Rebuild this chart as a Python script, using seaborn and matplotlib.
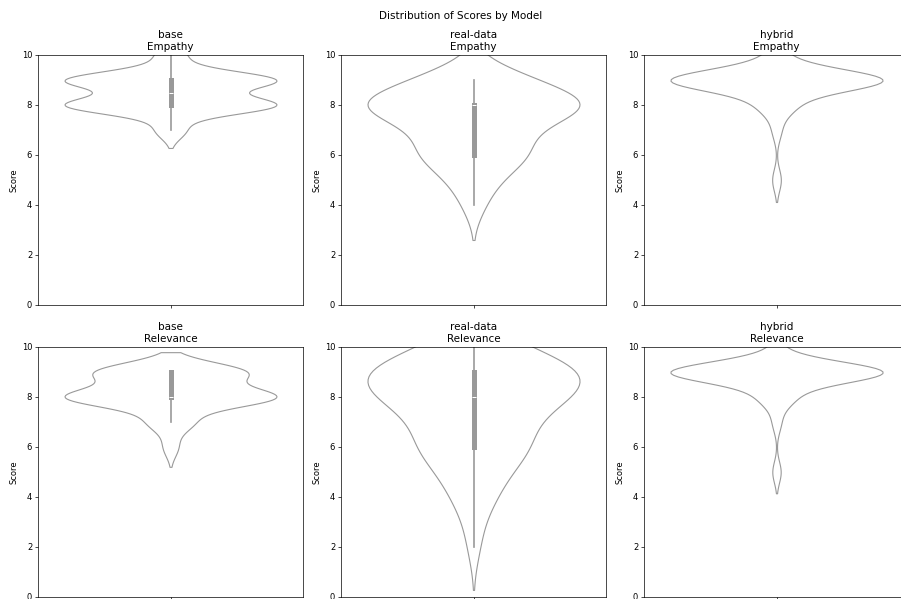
import numpy as np
import pandas as pd
import matplotlib
matplotlib.use("Agg")
import matplotlib.pyplot as plt
import seaborn as sns

models = ["base", "real-data", "hybrid"]
metrics = ["Empathy", "Relevance"]
score_levels = [2, 3, 4, 5, 6, 7, 8, 9, 10]

# counts of each score level (2..10)
base_empathy = [0, 0, 0, 0, 0, 2, 14, 14, 2]
base_relevance = [0, 0, 0, 0, 1, 3, 14, 10, 0]
real_empathy = [0, 0, 1, 2, 5, 4, 11, 5, 0]
real_relevance = [1, 1, 3, 4, 8, 6, 12, 16, 6]
hybrid_empathy = [0, 0, 0, 1, 0, 1, 4, 24, 2]
hybrid_relevance = [0, 0, 0, 1, 0, 1, 4, 25, 1]

counts = {
    ("base", "Empathy"): base_empathy,
    ("base", "Relevance"): base_relevance,
    ("real-data", "Empathy"): real_empathy,
    ("real-data", "Relevance"): real_relevance,
    ("hybrid", "Empathy"): hybrid_empathy,
    ("hybrid", "Relevance"): hybrid_relevance,
}

rows = []
for (m, met), c in counts.items():
    for lvl, n in zip(score_levels, c):
        rows += [{"model": m, "metric": met, "Score": lvl}] * n
df = pd.DataFrame(rows)

W, H = 901, 599
fig = plt.figure(figsize=(W / 100, H / 100), dpi=100)

col_left = [38, 341, 644]
row_top = [55, 347]
aw, ah = 265, 250

for r, met in enumerate(metrics):
    for c, m in enumerate(models):
        left = col_left[c] / W
        bottom = 1 - (row_top[r] + ah) / H
        ax = fig.add_axes([left, bottom, aw / W, ah / H])
        sub = df[(df.model == m) & (df.metric == met)]
        sns.violinplot(y=sub["Score"], ax=ax, color="white", inner="box",
                       linewidth=0.8)
        ax.set_ylim(0, 10)
        ax.set_yticks([0, 2, 4, 6, 8, 10])
        ax.set_xticks([0])
        ax.set_xticklabels([""])
        ax.set_xlabel("")
        ax.set_ylabel("Score", fontsize=6, labelpad=2.5)
        ax.set_title(f"{m}\n{met}", fontsize=7.5, pad=3.6)
        ax.tick_params(labelsize=6, length=2.1, width=0.5, pad=2.1)
        for s in ax.spines.values():
            s.set_linewidth(0.5)

fig.text(461 / W, 1 - 16 / H, "Distribution of Scores by Model",
         ha="center", va="center", fontsize=7.5)

fig.savefig("out.png", dpi=100)
